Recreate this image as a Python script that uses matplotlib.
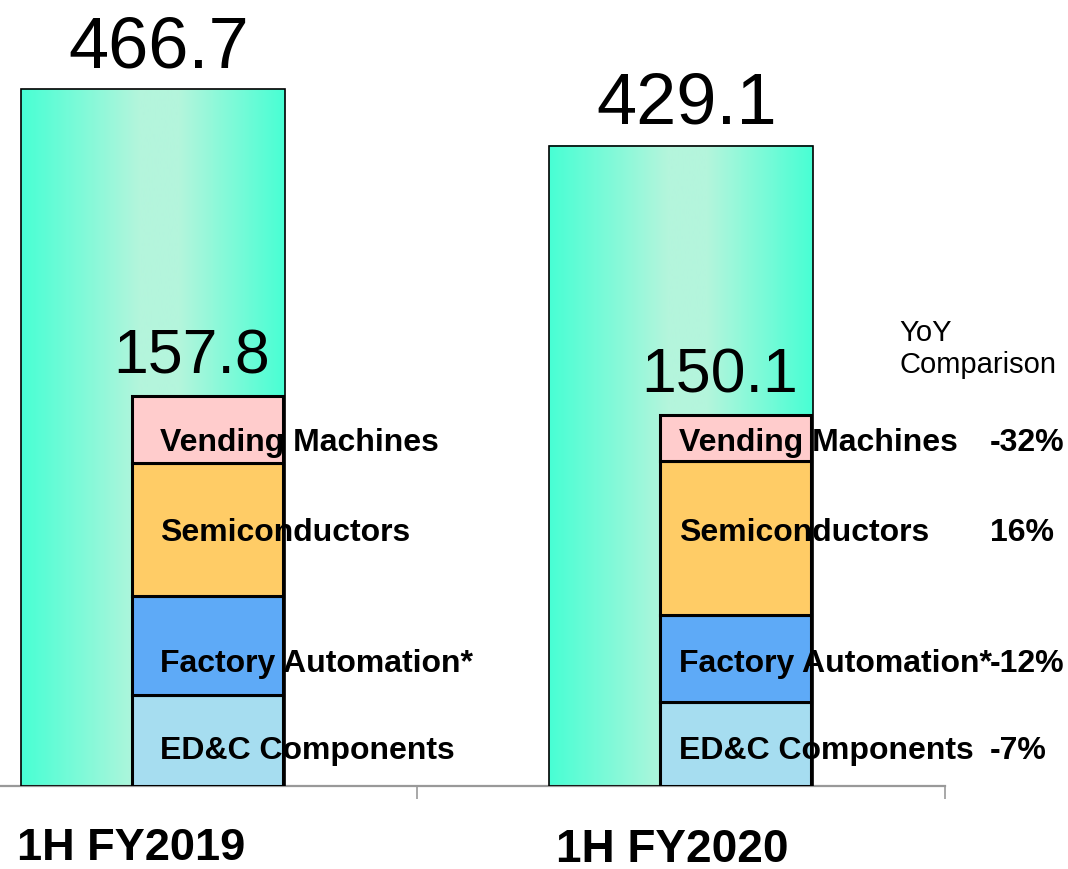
import numpy as np
import matplotlib
matplotlib.use('Agg')
import matplotlib.pyplot as plt
from matplotlib.colors import LinearSegmentedColormap

plt.rcParams['font.family'] = ['Liberation Sans', 'DejaVu Sans']

periods = ['1H FY2019', '1H FY2020']
total_sales = [466.7, 429.1]
segments = ['ED&C Components', 'Factory Automation*', 'Semiconductors', 'Vending Machines']
seg_2019 = [36.8, 40.1, 53.8, 27.1]
seg_2020 = [34.0, 35.2, 62.3, 18.6]
seg_totals = [157.8, 150.1]
yoy = ['-7%', '-12%', '16%', '-32%']

seg_colors = ['#A6DDF0', '#5EAAF7', '#FFCC66', '#FFCCCC']

fig = plt.figure(figsize=(10.68, 8.70), dpi=100)
ax = fig.add_axes([-111 / 1068, 83 / 870, 1056 / 1068, 787 / 870])

x = np.arange(len(periods))
bars = ax.bar(x, total_sales, width=0.5, facecolor='none', edgecolor='black', linewidth=1.2, zorder=3)

# horizontal gradient fill for the big bars
grad = LinearSegmentedColormap.from_list('g', [(0, '#48FFD4'), (0.45, '#B4F5DC'),
                                                 (0.6, '#B4F5DC'), (1, '#48FFD4')])
row = np.linspace(0, 1, 256).reshape(1, -1)
for b in bars:
    ax.imshow(row, cmap=grad, aspect='auto', zorder=2,
              extent=[b.get_x(), b.get_x() + b.get_width(), 0, b.get_height()])
ax.set_xlim(-0.5, 1.5)
ax.set_ylim(0, 527.3)

for xi, v in zip(x, total_sales):
    ax.annotate(f'{v:.1f}', (xi, v), xytext=(4, 16.5), textcoords='offset points',
                ha='center', va='baseline', fontsize=52)

for s in ['top', 'left', 'right']:
    ax.spines[s].set_visible(False)
ax.spines['bottom'].set_color('#999999')
ax.spines['bottom'].set_linewidth(1.6)
ax.set_yticks([])
ax.set_xticks([-0.5, 0.5, 1.5])
ax.set_xticklabels([])
ax.tick_params(axis='x', direction='out', length=9, width=1.2, color='#999999')

# segment breakdown on a secondary scale
ax2 = ax.twinx()
ax2.set_ylim(0, 318.6)
ax2.axis('off')
sx = x + 0.103
bottom = np.zeros(2)
for i, name in enumerate(segments):
    vals = np.array([seg_2019[i], seg_2020[i]])
    ax2.bar(sx, vals, bottom=bottom, width=0.286, color=seg_colors[i],
            edgecolor='black', linewidth=2.2, zorder=3)
    bottom += vals

for xi, v in zip(sx, seg_totals):
    ax2.annotate(f'{v:.1f}', (xi, v), xytext=(-11.5, 17), textcoords='offset points',
                 ha='center', va='baseline', fontsize=45)

label_y = [11.3, 46.6, 99.6, 136.0]
label_x = [0.013, 0.996]
for lx in label_x:
    for name, ly in zip(segments, label_y):
        ax2.text(lx, ly, name, ha='left', va='baseline', fontsize=23,
                 fontweight='bold', zorder=5)
for pct, ly in zip(yoy, label_y):
    ax2.text(1.585, ly, pct, ha='left', va='baseline', fontsize=23,
             fontweight='bold', clip_on=False)
ax2.text(1.413, (787 - 373) / 2.47, 'YoY\nComparison', ha='left', va='baseline',
         fontsize=21, linespacing=1.2)

ax.text(-0.0417, -0.0925, periods[0], transform=ax.get_xaxis_transform(),
        ha='center', va='baseline', fontsize=32.5, fontweight='bold')
ax.text(0.983, -0.0953, periods[1], transform=ax.get_xaxis_transform(),
        ha='center', va='baseline', fontsize=33, fontweight='bold')

fig.savefig('out.png', dpi=100)
